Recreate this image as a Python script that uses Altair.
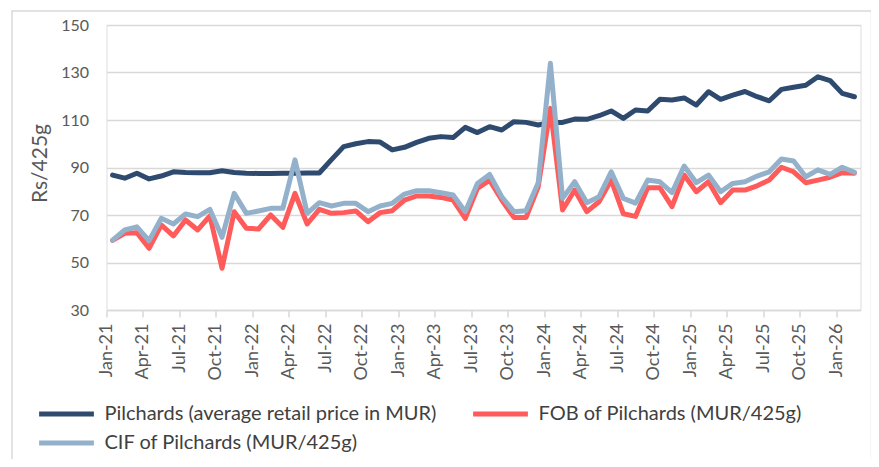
import altair as alt
import pandas as pd

# ---- data ----
month_labels = [f"{m}-{y}" for y in range(21, 27) for m in
                ["Jan", "Feb", "Mar", "Apr", "May", "Jun", "Jul", "Aug", "Sep", "Oct", "Nov", "Dec"]][:62]

retail = [86.8, 85.5, 87.6, 85.2, 86.4, 88.2, 87.9, 87.8, 87.8, 88.6, 87.9, 87.6,
          87.5, 87.5, 87.6, 87.6, 87.7, 87.7, 93.3, 98.8, 100.0, 100.9, 100.7, 97.4,
          98.5, 100.6, 102.3, 103.0, 102.6, 106.9, 104.7, 107.2, 105.8, 109.3, 109.0, 107.9,
          109.0, 109.0, 110.4, 110.3, 111.8, 113.8, 110.7, 114.2, 113.8, 118.7, 118.4, 119.3,
          116.3, 121.9, 118.7, 120.5, 122.0, 119.8, 118.1, 122.9, 123.8, 124.6, 128.2, 126.6,
          121.2, 119.8]

fob = [59.3, 62.3, 62.5, 56.0, 65.8, 61.2, 67.9, 63.7, 69.6, 47.6, 71.4, 64.4,
       64.1, 70.0, 64.8, 79.1, 66.2, 72.4, 70.7, 71.0, 71.7, 67.2, 71.0, 71.8,
       76.3, 78.0, 78.0, 77.4, 76.3, 68.6, 81.2, 84.7, 76.3, 69.0, 69.0, 81.9,
       114.9, 72.1, 80.5, 71.4, 75.6, 84.7, 70.5, 69.4, 81.5, 81.5, 73.5, 86.8,
       79.8, 84.0, 75.2, 80.5, 80.5, 82.3, 84.7, 90.1, 88.2, 83.6, 84.7, 85.9,
       87.8, 87.6]

cif = [59.4, 63.7, 65.0, 59.2, 68.6, 66.2, 70.4, 69.3, 72.4, 60.6, 79.1, 70.7,
       71.7, 72.8, 72.8, 93.2, 70.7, 75.2, 73.8, 74.9, 74.9, 71.4, 73.8, 74.9,
       78.8, 80.2, 80.2, 79.4, 78.4, 71.4, 83.3, 87.1, 77.7, 71.4, 71.8, 83.6,
       133.9, 77.0, 84.0, 75.2, 77.7, 88.2, 77.0, 75.0, 84.7, 84.0, 79.4, 90.6,
       83.6, 86.8, 79.8, 83.3, 84.0, 86.4, 88.2, 93.6, 92.7, 86.1, 89.0, 87.1,
       90.1, 88.0]

series_names = ["Pilchards (average retail price in MUR)",
                "FOB of Pilchards (MUR/425g)",
                "CIF of Pilchards (MUR/425g)"]
series_colors = ["#2E4A6F", "#FF5B5B", "#93B1CB"]
y_ticks = [30, 50, 70, 90, 110, 130, 150]
x_tick_idx = list(range(0, 61, 3))

# ---- long table ----
rows = []
for order, (name, vals) in enumerate(zip(series_names, [retail, fob, cif])):
    for i, v in enumerate(vals):
        rows.append({"pos": i + 0.5, "label": month_labels[i], "value": v,
                     "series": name, "order": order})
df = pd.DataFrame(rows)
df_top = df[df["order"] < 2]
df_cif = df[df["order"] == 2]

label_js = "[" + ",".join(f"'{l}'" for l in month_labels) + "]"

FONT = "Lato"

x_enc = alt.X("pos:Q",
              scale=alt.Scale(domain=[0, 62], nice=False, zero=False),
              axis=alt.Axis(values=x_tick_idx, labelExpr=label_js + "[datum.value]",
                            labelAngle=270, labelAlign="right", labelBaseline="middle",
                            labelFontSize=18, labelColor="#595959", labelFont=FONT,
                            labelPadding=6, labelOverlap=False,
                            grid=False, domainColor="#D9D9D9", domainWidth=1.5,
                            tickColor="#D9D9D9", tickWidth=1.5, tickSize=7, title=None))
y_enc = alt.Y("value:Q",
              scale=alt.Scale(domain=[30, 150], nice=False, zero=False),
              axis=alt.Axis(values=y_ticks, labelFontSize=16, labelColor="#595959",
                            labelFont=FONT, labelPadding=18,
                            grid=True, gridColor="#D9D9D9", gridWidth=1.5,
                            domain=False, ticks=False,
                            title="Rs/425g", titleFont=FONT, titleFontSize=21,
                            titleFontWeight="normal", titleColor="#595959",
                            titleAngle=270, titleAlign="center", titleBaseline="middle",
                            titleX=-66, titleY=138))

legend_style = dict(orient="none", legendX=-70, direction="horizontal", columns=2,
                    symbolType="stroke", symbolSize=3000, symbolStrokeWidth=5,
                    labelFontSize=20, labelFont=FONT, labelColor="#404040",
                    labelLimit=500, labelOffset=8, columnPadding=26, title=None)

line_style = dict(strokeWidth=5, strokeJoin="round", strokeCap="round")

top_lines = alt.Chart(df_top).mark_line(**line_style).encode(
    x=x_enc, y=y_enc,
    color=alt.Color("series:N",
                    scale=alt.Scale(domain=series_names[:2], range=series_colors[:2]),
                    legend=alt.Legend(legendY=359, **legend_style)),
    order=alt.Order("order:Q"),
    detail="series:N",
)

cif_line = alt.Chart(df_cif).mark_line(**line_style).encode(
    x=x_enc, y=y_enc,
    color=alt.Color("series:N",
                    scale=alt.Scale(domain=series_names[2:], range=series_colors[2:]),
                    legend=alt.Legend(legendY=388, **legend_style)),
)

frame = alt.Chart(pd.DataFrame({"k": [0]})).mark_rect(
    fill=None, stroke="#D9D9D9", strokeWidth=1.5
).encode(x=alt.value(-94.5), x2=alt.value(765), y=alt.value(-14), y2=alt.value(450))

chart = alt.layer(frame, top_lines, cif_line).resolve_scale(color="independent").properties(
    width=754, height=285,
    autosize=alt.AutoSizeParams(type="none"),
    padding={"left": 98.5, "top": 17, "right": 10.5, "bottom": 149},
).configure_view(stroke=None).configure(background="white")

chart.save("out.html", embed_options={"renderer": "svg", "actions": False})
